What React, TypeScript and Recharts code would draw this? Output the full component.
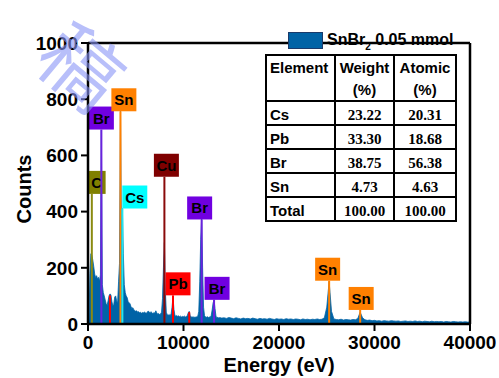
import React from 'react';
import {
  ComposedChart, Area, XAxis, YAxis, ReferenceLine, Legend, Label,
} from 'recharts';

// Spectrum counts, 0–14000 eV at 100 eV steps
const lowStep = 100;
const lowCounts = [
  0, 0, 180, 250, 245, 228, 205, 178, 165, 172,
  160, 166, 152, 175, 690, 140, 112, 100, 86, 72,
  66, 82, 100, 107, 104, 80, 64, 70, 96, 100,
  82, 76, 150, 216, 757, 320, 411, 250, 140, 112,
  100, 94, 80, 76, 72, 62, 55, 58, 50, 48,
  45, 47, 42, 44, 40, 42, 38, 41, 39, 43,
  40, 38, 42, 46, 43, 40, 44, 39, 37, 41,
  38, 47, 40, 35, 37, 34, 36, 42, 90, 200,
  290, 120, 42, 33, 31, 34, 30, 36, 60, 96,
  52, 31, 28, 30, 27, 29, 26, 28, 25, 27,
  26, 28, 25, 27, 30, 40, 45, 30, 25, 24,
  26, 23, 25, 24, 26, 28, 45, 150, 300, 375,
  200, 60, 30, 25, 24, 26, 23, 25, 24, 30,
  50, 75, 86, 55, 28, 22, 24, 21, 23, 22,
  21,
];
// Spectrum counts, 14250–40000 eV at 250 eV steps
const highStart = 14250;
const highStep = 250;
const highCounts = [
  22, 20, 23, 21, 19, 22, 20, 18, 21, 19,
  20, 18, 21, 19, 17, 20, 18, 19, 17, 20,
  18, 16, 19, 17, 18, 16, 19, 17, 18, 16,
  18, 17, 15, 18, 16, 17, 15, 17, 16, 18,
  16, 17, 22, 60, 151, 45, 18, 16, 15, 17,
  14, 16, 15, 14, 16, 15, 20, 42, 22, 15,
  13, 14, 12, 13, 11, 12, 10, 12, 11, 10,
  12, 11, 10, 11, 9, 10, 11, 9, 10, 9,
  11, 9, 10, 8, 10, 9, 8, 10, 8, 9,
  8, 9, 7, 9, 8, 7, 9, 8, 7, 8,
  7, 8, 7, 7,
];

// Element marker lines
const markerElements = ['C', 'Br', 'Sn', 'Cs', 'Cu', 'Pb', 'Br', 'Br', 'Sn', 'Sn', 'Pb', 'Pb'];
const markerEnergies = [400, 1400, 3400, 3600, 8000, 8900, 11900, 13200, 25250, 28500, 2300, 10600];
const markerTops = [463, 692, 757, 411, 524, 102, 372, 86, 154, 50, 102, 42];
const markerLabeled = [true, true, true, true, true, true, true, true, true, true, false, false];
// style: label box horizontal offsets (px)
const markerLabelDx = [4.8, 0, 3.4, 12.4, 2, 5, -2, 3, -1.5, 1, 0, 0];

const elementColors: Record<string, { box: string; line: string }> = {
  C: { box: '#808000', line: '#8a8a10' },
  Br: { box: '#7000E0', line: '#6a22dd' },
  Sn: { box: '#FF8000', line: '#FF8000' },
  Cs: { box: '#00FFFF', line: '#22e6ee' },
  Cu: { box: '#7F0000', line: '#8a0a0a' },
  Pb: { box: '#FF0000', line: '#FF0000' },
};

// Table
const tableElements = ['Cs', 'Pb', 'Br', 'Sn', 'Total'];
const tableWeight = ['23.22', '33.30', '38.75', '4.73', '100.00'];
const tableAtomic = ['20.31', '18.68', '56.38', '4.63', '100.00'];

const xTicks = [0, 10000, 20000, 30000, 40000];
const yTicks = [0, 200, 400, 600, 800, 1000];

const data = [
  ...lowCounts.map((c, i) => ({ energy: i * lowStep, counts: c })),
  ...highCounts.map((c, i) => ({ energy: highStart + i * highStep, counts: c })),
];

const SPEC_COLOR = '#0063A6';
const ARIAL = 'Arial, "Liberation Sans", Helvetica, sans-serif';
const TIMES = '"Times New Roman", "Liberation Serif", serif';

const BoxLabel = (props: any) => {
  const { viewBox, text, dx } = props;
  if (!viewBox) return null;
  const x = viewBox.x + (dx || 0);
  const y = viewBox.y;
  const w = text.length === 1 ? 18 : 25;
  const h = 23;
  const col = elementColors[text].box;
  return (
    <g>
      <rect x={x - w / 2} y={y - h} width={w} height={h} fill={col} />
      <text x={x} y={y - 6} textAnchor="middle" fontFamily={ARIAL} fontWeight="bold" fontSize={15} fill="#000">
        {text}
      </text>
    </g>
  );
};

const LegendContent = () => (
  <div style={{ position: 'relative', width: 180, height: 26, fontFamily: ARIAL, fontWeight: 'bold', fontSize: 16, color: '#000', lineHeight: '18px' }}>
    <span style={{ position: 'absolute', left: 0, top: 0.5, width: 35, height: 17.5, background: SPEC_COLOR, boxSizing: 'border-box', border: '0.8px solid #1a3a6a' }} />
    <span style={{ position: 'absolute', left: 39, top: 0, whiteSpace: 'nowrap' }}>
      SnBr<span style={{ fontSize: 10, position: 'relative', top: 5 }}>2</span> 0.05 mmol
    </span>
  </div>
);

const rowYs = [55, 101, 125, 149, 173, 197, 221];
const colXs = [266, 335, 394, 456];

const Table = () => {
  const c1 = (colXs[1] + colXs[2]) / 2;
  const c2 = (colXs[2] + colXs[3]) / 2;
  return (
    <g>
      {rowYs.map((y, i) => (
        <line key={'r' + i} x1={colXs[0] - 1} x2={colXs[3] + 1} y1={y} y2={y} stroke="#000" strokeWidth={2} />
      ))}
      {colXs.map((x, i) => (
        <line key={'c' + i} x1={x} x2={x} y1={rowYs[0]} y2={rowYs[rowYs.length - 1]} stroke="#000" strokeWidth={2} />
      ))}
      <text x={270} y={73} fontFamily={ARIAL} fontWeight="bold" fontSize={15}>Element</text>
      <text x={c1} y={73} textAnchor="middle" fontFamily={ARIAL} fontWeight="bold" fontSize={15}>Weight</text>
      <text x={c2} y={73} textAnchor="middle" fontFamily={ARIAL} fontWeight="bold" fontSize={15}>Atomic</text>
      <text x={c1} y={95} textAnchor="middle" fontFamily={ARIAL} fontWeight="bold" fontSize={15}>(%)</text>
      <text x={c2} y={95} textAnchor="middle" fontFamily={ARIAL} fontWeight="bold" fontSize={15}>(%)</text>
      {tableElements.map((el, i) => {
        const base = rowYs[i + 1] + 18.5;
        return (
          <g key={el}>
            <text x={270} y={base} fontFamily={ARIAL} fontWeight="bold" fontSize={15}>{el}</text>
            <text x={c1} y={base} textAnchor="middle" fontFamily={TIMES} fontWeight="bold" fontSize={15}>{tableWeight[i]}</text>
            <text x={c2} y={base} textAnchor="middle" fontFamily={TIMES} fontWeight="bold" fontSize={15}>{tableAtomic[i]}</text>
          </g>
        );
      })}
    </g>
  );
};

export default function App() {
  return (
    <div style={{ position: 'absolute', left: 0, top: 0, width: 499, height: 378, background: '#fff' }}>
      <ComposedChart
        width={499}
        height={378}
        data={data}
        margin={{ top: 17, right: 29, bottom: 0, left: 0 }}
      >
        <XAxis
          dataKey="energy"
          type="number"
          domain={[0, 40000]}
          ticks={xTicks}
          interval={0}
          height={54}
          tickSize={7}
          tickMargin={5}
          axisLine={{ stroke: '#000', strokeWidth: 2.5 }}
          tickLine={{ stroke: '#000', strokeWidth: 2 }}
          tick={{ fill: '#000', fontFamily: ARIAL, fontWeight: 'bold', fontSize: 19 }}
        >
          <Label
            content={() => (
              <text x={279} y={372} textAnchor="middle" fontFamily={ARIAL} fontWeight="bold" fontSize={20} fill="#000">
                Energy (eV)
              </text>
            )}
          />
        </XAxis>
        <YAxis
          type="number"
          domain={[0, 1000]}
          ticks={yTicks}
          interval={0}
          width={88}
          tickSize={7}
          tickMargin={3}
          axisLine={{ stroke: '#000', strokeWidth: 2.5 }}
          tickLine={{ stroke: '#000', strokeWidth: 2 }}
          tick={{ fill: '#000', fontFamily: ARIAL, fontWeight: 'bold', fontSize: 19 }}
        >
          <Label
            content={() => (
              <text x={31} y={189} transform="rotate(-90, 31, 189)" textAnchor="middle" fontFamily={ARIAL} fontWeight="bold" fontSize={20} fill="#000">
                Counts
              </text>
            )}
          />
        </YAxis>
        <Legend
          verticalAlign="top"
          align="left"
          content={<LegendContent />}
          wrapperStyle={{ position: 'absolute', left: 288, top: 31, width: 180, height: 26 }}
        />
        <Area
          dataKey="counts"
          name="SnBr2 0.05 mmol"
          type="linear"
          stroke={SPEC_COLOR}
          strokeWidth={0.8}
          fill={SPEC_COLOR}
          fillOpacity={1}
          isAnimationActive={false}
          dot={false}
          activeDot={false}
        />
        {markerEnergies.map((e, i) => (
          <ReferenceLine
            key={'m' + i}
            segment={[{ x: e, y: 0 }, { x: e, y: markerTops[i] }]}
            stroke={elementColors[markerElements[i]].line}
            strokeWidth={2}
            label={markerLabeled[i] ? <BoxLabel text={markerElements[i]} dx={markerLabelDx[i]} /> : undefined}
          />
        ))}
        <ReferenceLine y={1000} stroke="#000" strokeWidth={2.5} />
        <ReferenceLine x={40000} stroke="#000" strokeWidth={2.5} />
      </ComposedChart>
      <svg width={499} height={378} style={{ position: 'absolute', left: 0, top: 0, pointerEvents: 'none' }}>
        <Table />
        <g transform="rotate(40, 80, 68)">
          <text
            x={80}
            y={96}
            textAnchor="middle"
            fontFamily='"Noto Sans CJK SC", sans-serif'
            fontSize={80}
            fill="#8a96f7"
            opacity={0.6}
          >
            稿
          </text>
        </g>
      </svg>
    </div>
  );
}
